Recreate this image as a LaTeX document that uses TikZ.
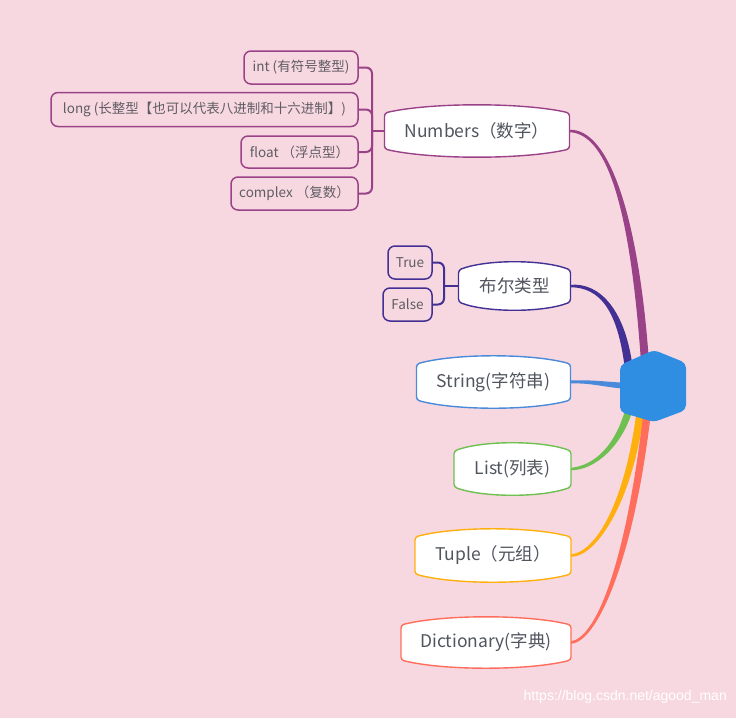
\documentclass[tikz,border=0pt]{standalone}
\usepackage{fontspec}
\setmainfont{Noto Sans CJK SC}
\newfontfamily\wmfont{Liberation Sans}
\usetikzlibrary{calc}
\pgfdeclarelayer{bg}\pgfdeclarelayer{links}\pgfdeclarelayer{shapes}
\pgfsetlayers{bg,links,shapes,main}
\definecolor{bgpink}{RGB}{248,216,224}
\definecolor{cnum}{RGB}{153,66,135}
\definecolor{cbool}{RGB}{66,48,148}
\definecolor{cstr}{RGB}{74,138,218}
\definecolor{clist}{RGB}{110,192,80}
\definecolor{ctup}{RGB}{255,176,15}
\definecolor{cdict}{RGB}{255,110,92}
\definecolor{chex}{RGB}{48,142,226}
\definecolor{tgray}{RGB}{80,85,94}
\definecolor{cgray}{RGB}{95,92,100}
\newcommand\bubshape[2]{%
 \begin{pgfonlayer}{shapes}
 \draw[draw=#2, line width=1.4pt, fill=white, rounded corners=3pt]
   (#1.west) -- ($(#1.south west)+(0,-8)$)
   .. controls ($(#1.south west)!0.25!(#1.south east)+(0,2.7)$) and ($(#1.south west)!0.75!(#1.south east)+(0,2.7)$) .. ($(#1.south east)+(0,-8)$)
   -- ($(#1.north east)+(0,8)$)
   .. controls ($(#1.north west)!0.75!(#1.north east)+(0,-2.7)$) and ($(#1.north west)!0.25!(#1.north east)+(0,-2.7)$) .. ($(#1.north west)+(0,8)$) -- cycle;
 \end{pgfonlayer}}
% colour, A, P1, P2, B, half width at A, signed half width at B (horizontal offset)
\newcommand\taper[7]{%
 \begin{pgfonlayer}{links}
 \fill[#1] ($#2+(0,-#6)$) .. controls ($#3+(0,-2.6)$) and ($#4+(#7,0)$) .. ($#5+(#7,0)$)
   -- ($#5-(#7,0)$) .. controls ($#4-(#7,0)$) and ($#3+(0,2.6)$) .. ($#2+(0,#6)$) -- cycle;
 \end{pgfonlayer}}
\newcommand\taperh[7]{%
 \begin{pgfonlayer}{links}
 \fill[#1] ($#2+(0,-#6)$) .. controls ($#3+(0,-#6)$) and ($#4+(0,-#7)$) .. ($#5+(0,-#7)$)
   -- ($#5+(0,#7)$) .. controls ($#4+(0,#7)$) and ($#3+(0,#6)$) .. ($#2+(0,#6)$) -- cycle;
 \end{pgfonlayer}}
\begin{document}
\begin{tikzpicture}[x=1pt,y=-1pt,
  mainnode/.style={inner sep=0pt, outer sep=0pt, text=tgray, font=\fontsize{17.5}{20}\selectfont},
  leaf/.style={draw=#1, rounded corners=7pt, line width=1.5pt, inner sep=0pt, outer sep=0pt, text=cgray, font=\fontsize{13.5}{16}\selectfont},
  bracket/.style={draw=#1, line width=2pt, rounded corners=6pt}]
\begin{pgfonlayer}{bg}
\fill[bgpink] (0,0) rectangle (736,718);
\end{pgfonlayer}
\useasboundingbox (0,0) rectangle (736,718);

% main nodes
\node[mainnode, minimum width=185, minimum height=52] (num) at (477,131) {Numbers（数字）};
\node[mainnode, minimum width=112, minimum height=48] (bool) at (514.5,286) {布尔类型};
\node[mainnode, minimum width=154, minimum height=52] (str) at (493.5,382) {String(字符串)};
\node[mainnode, minimum width=117, minimum height=52] (list) at (512.5,469) {List(列表)};
\node[mainnode, minimum width=156, minimum height=53] (tup) at (493,555.5) {Tuple（元组）};
\node[mainnode, minimum width=170, minimum height=51] (dict) at (486,642.5) {Dictionary(字典)};
\bubshape{num}{cnum}
\bubshape{bool}{cbool}
\bubshape{str}{cstr}
\bubshape{list}{clist}
\bubshape{tup}{ctup}
\bubshape{dict}{cdict}

% hub
\coordinate (hub) at (653,386);
\coordinate (hn) at (645,362);
\coordinate (hb) at (629,370);
\coordinate (hs) at (630,386);
\coordinate (hl) at (630,406);
\coordinate (ht) at (640,414);
\coordinate (hd) at (647,414);
\begin{pgfonlayer}{shapes}
\fill[chex, rounded corners=5pt] (654,350) -- (686,363) -- (686,410) -- (654,422) -- (620,412) -- (620,365) -- cycle;
\end{pgfonlayer}

% main links
\taper{cnum}{(num.east)}{(610,131)}{(635,220)}{(hn)}{1.2}{4}
\taper{cbool}{(bool.east)}{(600,285)}{(622,310)}{(hb)}{1.2}{4}
\taperh{cstr}{(str.east)}{(592,381)}{(606,385)}{(hs)}{1.5}{3}
\taper{clist}{(list.east)}{(595,468)}{(620,445)}{(hl)}{1.2}{-3.8}
\taper{ctup}{(tup.east)}{(595,555)}{(628,505)}{(ht)}{1.2}{-3.8}
\taper{cdict}{(dict.east)}{(597,640)}{(630,560)}{(hd)}{1.2}{-3.8}

% number children
\node[leaf=cnum, minimum width=114, minimum height=33] (int) at (301,67.5) {int (有符号整型)};
\node[leaf=cnum, minimum width=307, minimum height=34] (long) at (204.5,109.5) {long (长整型【也可以代表八进制和十六进制】)};
\node[leaf=cnum, minimum width=117, minimum height=32] (float) at (299.5,152) {float （浮点型）};
\node[leaf=cnum, minimum width=127, minimum height=33] (cplx) at (294.5,193.5) {complex （复数）};
\coordinate (jn) at (372,131);
\begin{pgfonlayer}{links}
\draw[bracket=cnum] (num.west) -- (jn);
\draw[bracket=cnum] (int.east) -| (jn);
\draw[bracket=cnum] (long.east) -| (jn);
\draw[bracket=cnum] (float.east) -| (jn);
\draw[bracket=cnum] (cplx.east) -| (jn);
\end{pgfonlayer}

% bool children
\node[leaf=cbool, minimum width=44, minimum height=33] (true) at (410,262.5) {True};
\node[leaf=cbool, minimum width=49, minimum height=33] (false) at (407.5,304.5) {False};
\coordinate (jb) at (444,286);
\begin{pgfonlayer}{links}
\draw[bracket=cbool] (bool.west) -- (jb);
\draw[bracket=cbool] (true.east) -| (jb);
\draw[bracket=cbool] (false.east) -| (jb);
\end{pgfonlayer}

% watermark
\node[text=white, font=\wmfont\fontsize{14}{16}\selectfont, anchor=east, inner sep=0pt] (wm) at (727,697) {https://blog.csdn.net/agood\_man};
\end{tikzpicture}
\end{document}
